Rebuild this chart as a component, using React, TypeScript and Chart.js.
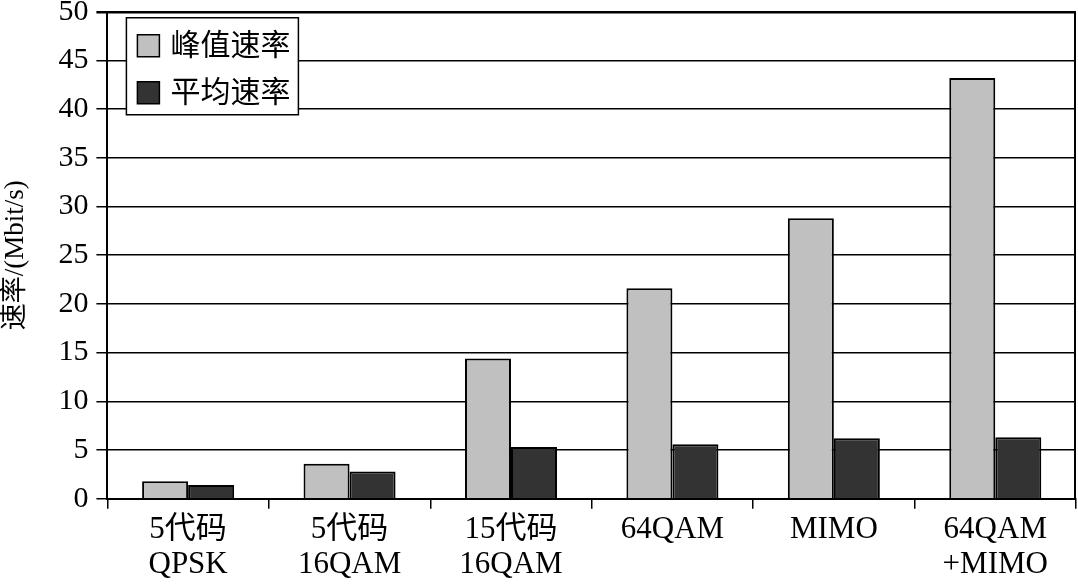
import React, { useEffect, useRef } from "react";
import { Chart, registerables } from "chart.js";

Chart.register(...registerables);

const categories: string[][] = [
  ["5代码", "QPSK"],
  ["5代码", "16QAM"],
  ["15代码", "16QAM"],
  ["64QAM"],
  ["MIMO"],
  ["64QAM", "+MIMO"],
];
const seriesNames = ["峰值速率", "平均速率"];
const peakRates = [1.8, 3.6, 14.4, 21.6, 28.8, 43.2];
const avgRates = [1.4, 2.8, 5.3, 5.6, 6.2, 6.3];
const yMin = 0;
const yMax = 50;
const yStep = 5;
const yTitle = "速率/(Mbit/s)";

const SERIF = "'Liberation Serif', 'Noto Sans CJK SC', serif";
const COLORS = ["#c0c0c0", "#333333"];

const legendPlugin = {
  id: "innerLegend",
  afterDatasetsDraw(chart: any) {
    const { ctx, chartArea } = chart;
    ctx.save();
    // right border
    ctx.strokeStyle = "#000";
    ctx.lineWidth = 2;
    ctx.beginPath();
    ctx.moveTo(chartArea.right - 1, chartArea.top);
    ctx.lineTo(chartArea.right - 1, chartArea.bottom);
    ctx.stroke();

    const x = chartArea.left + 19;
    const y = chartArea.top + 6;
    const w = 172;
    const h = 97;
    ctx.fillStyle = "#fff";
    ctx.fillRect(x, y, w, h);
    ctx.lineWidth = 1.5;
    ctx.strokeStyle = "#000";
    ctx.strokeRect(x, y, w, h);
    chart.data.datasets.forEach((ds: any, i: number) => {
      const cy = y + 28 + i * 47;
      ctx.fillStyle = ds.backgroundColor;
      ctx.fillRect(x + 11, cy - 11, 22, 22);
      ctx.lineWidth = 1.5;
      ctx.strokeRect(x + 11, cy - 11, 22, 22);
      ctx.fillStyle = "#000";
      ctx.font = "30px " + SERIF;
      ctx.textBaseline = "middle";
      ctx.textAlign = "left";
      ctx.fillText(ds.label, x + 44, cy + 1);
    });
    ctx.restore();
  },
};

export default function App() {
  const ref = useRef<HTMLCanvasElement>(null);
  useEffect(() => {
    if (!ref.current) return;
    const chart = new Chart(ref.current, {
      type: "bar",
      data: {
        labels: categories,
        datasets: [
          {
            label: seriesNames[0],
            data: peakRates,
            backgroundColor: COLORS[0],
            borderColor: "#000",
            borderWidth: 2,
            categoryPercentage: 0.57,
            barPercentage: 1.0,
          },
          {
            label: seriesNames[1],
            data: avgRates,
            backgroundColor: COLORS[1],
            borderColor: "#000",
            borderWidth: 2,
            categoryPercentage: 0.57,
            barPercentage: 1.0,
          },
        ],
      },
      options: {
        animation: false,
        responsive: true,
        maintainAspectRatio: false,
        layout: { padding: { top: 0, right: 2, bottom: 0, left: 0 } },
        plugins: {
          legend: { display: false },
          tooltip: { enabled: false },
        },
        scales: {
          x: {
            grid: {
              offset: true,
              drawOnChartArea: false,
              drawTicks: true,
              tickLength: 10,
              color: "#000",
              lineWidth: 1.5,
            },
            border: { color: "#000", width: 2 },
            ticks: {
              color: "#000",
              font: { family: SERIF, size: 31, lineHeight: 1.15 },
              padding: 3,
              maxRotation: 0,
              autoSkip: false,
            },
          },
          y: {
            min: yMin,
            max: yMax,
            grid: {
              color: "#000",
              lineWidth: (c: any) => (c.tick && c.tick.value === yMax ? 2.5 : 1.5),
              tickLength: 11,
            },
            border: { color: "#000", width: 2 },
            ticks: {
              stepSize: yStep,
              color: "#000",
              font: { family: SERIF, size: 30, lineHeight: 0.25 },
              padding: 8,
            },
            title: {
              display: true,
              text: yTitle,
              color: "#000",
              font: { family: SERIF, size: 27 },
              padding: { top: 0, bottom: 18 },
            },
          },
        },
      },
      plugins: [legendPlugin],
    });
    return () => chart.destroy();
  }, []);
  return (
    <div style={{ position: "fixed", left: 0, top: 0, width: 1078, height: 586, background: "#fff" }}>
      <canvas ref={ref} />
    </div>
  );
}
